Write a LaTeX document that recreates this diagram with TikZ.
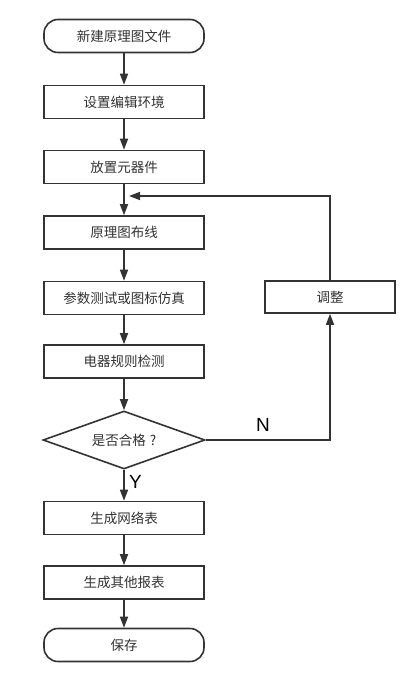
\documentclass[tikz,border=0pt]{standalone}
\usepackage{fontspec}
\newfontfamily\cjk{Noto Sans CJK SC}
\setmainfont{Liberation Sans}
\usetikzlibrary{arrows.meta,shapes.geometric,positioning}
\definecolor{ln}{HTML}{333333}
\definecolor{tx}{HTML}{333333}
\tikzset{
  box/.style={draw=ln, line width=1.6pt, fill=white, minimum width=160pt, minimum height=33pt, inner sep=0pt, font=\cjk\fontsize{13.5}{14}\selectfont, text=tx},
  term/.style={box, rounded corners=14pt},
  dia/.style={draw=ln, line width=1.6pt, fill=white, diamond, minimum width=162pt, minimum height=58pt, aspect=2.8, inner sep=0pt, font=\cjk\fontsize{13.5}{14}\selectfont, text=tx},
  flow/.style={draw=ln, line width=1.6pt, -{Triangle[length=11pt,width=8pt]}},
  lab/.style={font=\fontsize{19}{20}\selectfont, text=black}
}
\begin{document}
\begin{tikzpicture}[x=1pt,y=-1pt]
\useasboundingbox (0,0) rectangle (408,684);
\node[term] (n1) at (124,36) {新建原理图文件};
\node[box] (n2) at (124,102) {设置编辑环境};
\node[box] (n3) at (124,167) {放置元器件};
\node[box] (n4) at (124,232.5) {原理图布线};
\node[box] (n5) at (124,298) {参数测试或图标仿真};
\node[box] (n6) at (124,361.5) {电器规则检测};
\node[dia, minimum width=162pt, minimum height=58pt] (d) at (124,440) {是否合格\hspace{4pt}?};
\node[box] (n7) at (124,518) {生成网络表};
\node[box] (n8) at (124,582.5) {生成其他报表};
\node[term] (n9) at (124,645) {保存};
\node[box, minimum width=130pt, minimum height=32pt] (adj) at (330,297) {调整};
\coordinate (fb) at (129,196);
\coordinate (cr) at (330,440);
\coordinate (ct) at (330,196);
\draw[flow] (n1) -- (n2);
\draw[flow] (n2) -- (n3);
\draw[flow] (n3) -- (n4);
\draw[flow] (n4) -- (n5);
\draw[flow] (n5) -- (n6);
\draw[flow] (n6) -- (d);
\draw[flow] (d) -- node[lab, right=1pt, pos=0.4] {Y} (n7);
\draw[flow] (n7) -- (n8);
\draw[flow] (n8) -- (n9);
\draw[flow] (d.east) -- (cr) -- (adj.south);
\draw[flow] (adj.north) -- (ct) -- (fb);
\node[lab] (nl) at (263,425) {N};
\end{tikzpicture}
\end{document}
